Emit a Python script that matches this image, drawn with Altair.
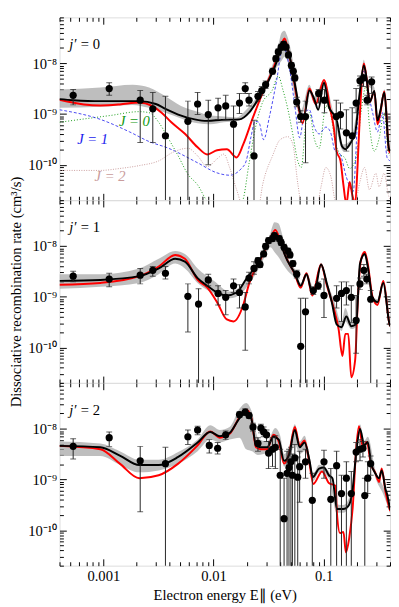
import altair as alt
import pandas as pd

FONT = "Liberation Serif"

# ---------------- panel 1 : j' = 0 ----------------
# data points: (energy eV, rate, upper error, lower error)
p1_points = [
    (5.32e-4, 2.33e-9, 3.03e-9, 1.51e-9), (1.13e-3, 3.17e-9, 4.12e-9, 2.33e-9),
    (2.16e-3, 1.87e-9, 2.90e-9, 2.74e-10), (2.81e-3, 1.26e-9, 2.66e-9, 2.74e-10),
    (3.66e-3, 3.72e-10, 2.23e-9, 1e-13), (5.85e-3, 7.16e-10, 1.79e-9, 1e-13),
    (7.17e-3, 1.57e-9, 2.66e-9, 9.73e-10), (8.96e-3, 9.73e-10, 1.87e-9, 1.0e-10),
    (1.10e-2, 1.32e-9, 2.05e-9, 7.82e-10), (1.29e-2, 1.44e-9, 2.33e-9, 7.82e-10),
    (1.52e-2, 6.28e-10, 1.44e-9, 1e-13), (1.72e-2, 1.64e-9, 2.54e-9, 1.02e-9),
    (1.94e-2, 3.17e-9, 4.12e-9, 2.54e-9), (2.10e-2, 1.87e-9, 2.54e-9, 1.44e-9),
    (2.33e-2, 1.49e-10, 7.48e-10, 1e-13), (2.53e-2, 2.23e-9, 2.78e-9, 1.79e-9),
    (2.74e-2, 2.90e-9, 3.46e-9, 2.33e-9), (2.97e-2, 3.77e-9, 4.49e-9, 3.17e-9),
    (3.43e-2, 6.95e-9, 7.93e-9, 6.10e-9), (3.68e-2, 1.23e-8, 1.40e-8, 1.08e-8),
    (3.87e-2, 1.67e-8, 1.90e-8, 1.46e-8), (4.11e-2, 2.07e-8, 2.36e-8, 1.82e-8),
    (4.32e-2, 2.36e-8, 2.69e-8, 2.07e-8), (4.55e-2, 2.07e-8, 2.36e-8, 1.82e-8),
    (4.79e-2, 1.46e-8, 1.67e-8, 1.28e-8), (5.09e-2, 9.04e-9, 1.03e-8, 7.93e-9),
    (5.30e-2, 6.95e-9, 7.93e-9, 6.10e-9), (5.47e-2, 5.12e-9, 5.84e-9, 4.49e-9),
    (5.69e-2, 1.72e-9, 2.14e-9, 1.38e-9), (6.18e-2, 8.91e-10, 1.16e-9, 6.86e-10),
    (6.84e-2, 8.91e-10, 1.79e-9, 1.09e-10), (9.00e-2, 2.54e-9, 3.03e-9, 1.64e-9),
    (0.1016, 1.87e-9, 3.03e-9, 1.06e-9), (0.130, 8.91e-10, 1.87e-9, 1e-13),
    (0.142, 9.73e-10, 1.64e-9, 5.05e-10), (0.1606, 4.24e-10, 1.21e-9, 1.85e-10),
    (0.1815, 3.72e-10, 1.32e-9, 1e-13), (0.197, 1.64e-9, 3.17e-9, 1.06e-9),
    (0.2135, 4.49e-9, 5.59e-9, 3.61e-9), (0.230, 5.12e-9, 6.10e-9, 3.46e-9),
    (0.248, 1.87e-9, 2.33e-9, 1.51e-9), (0.2723, 4.30e-9, 5.35e-9, 2.54e-9),
]
p1_black = [
    (4.0e-4, 1.96e-9), (5.32e-4, 1.87e-9), (9.39e-4, 1.79e-9), (1.41e-3, 1.79e-9),
    (2.12e-3, 1.79e-9), (2.99e-3, 1.57e-9), (3.66e-3, 1.26e-9), (4.78e-3, 9.73e-10),
    (6.75e-3, 7.82e-10), (8.78e-3, 7.3e-10), (1.19e-2, 7.65e-10), (1.72e-2, 7.82e-10),
    (2.10e-2, 1.06e-9), (2.48e-2, 1.79e-9), (2.97e-2, 3.46e-9), (3.64e-2, 9.04e-9),
    (4.15e-2, 2.07e-8), (4.41e-2, 2.69e-8), (4.65e-2, 2.17e-8), (5.09e-2, 9.44e-9),
    (5.63e-2, 2.78e-9), (6.18e-2, 1.02e-9), (6.63e-2, 9.31e-10), (7.41e-2, 2.90e-9),
    (8.21e-2, 1.96e-9), (8.91e-2, 1.21e-9), (0.1006, 4.12e-9), (0.1114, 1.38e-9),
    (0.1233, 9.73e-10), (0.132, 7.16e-10), (0.1465, 2.30e-10), (0.157, 2.02e-10),
    (0.174, 2.62e-10), (0.193, 4.24e-10), (0.212, 2.54e-9), (0.2317, 9.04e-9),
    (0.246, 4.69e-9), (0.2617, 1.72e-9), (0.288, 2.84e-9), (0.3078, 7.48e-10),
    (0.327, 1.16e-9), (0.355, 2.66e-9), (0.390, 2.11e-10), (0.401, 1.85e-10),
]
p1_red = [
    (4.0e-4, 1.91e-9), (6.65e-4, 1.54e-9), (9.39e-4, 1.47e-9), (1.41e-3, 1.54e-9),
    (2.12e-3, 1.68e-9), (2.76e-3, 1.44e-9), (3.38e-3, 1.06e-9), (4.14e-3, 6.86e-10),
    (5.50e-3, 4.06e-10), (7.17e-3, 2.20e-10), (8.78e-3, 1.59e-10), (1.076e-2, 1.93e-10),
    (1.32e-2, 2.02e-10), (1.62e-2, 1.39e-10), (1.86e-2, 2.51e-10), (2.28e-2, 8.53e-10),
    (2.80e-2, 2.66e-9), (3.43e-2, 7.26e-9), (3.87e-2, 1.46e-8), (4.24e-2, 2.69e-8),
    (4.41e-2, 3.07e-8), (4.71e-2, 1.99e-8), (5.25e-2, 6.10e-9), (5.81e-2, 1.64e-9),
    (6.43e-2, 6.56e-10), (7.41e-2, 3.17e-9), (8.46e-2, 1.57e-9), (0.1006, 4.69e-9),
    (0.115, 1.21e-9), (0.1233, 5.51e-10), (0.131, 1.85e-10), (0.142, 1.19e-10),
    (0.151, 4.0e-11), (0.1606, 1.67e-11), (0.172, 4.56e-11), (0.1815, 2.59e-11),
    (0.193, 1.67e-11), (0.203, 9.6e-11), (0.2135, 1.06e-9), (0.2317, 9.86e-9),
    (0.246, 4.69e-9), (0.2617, 1.72e-9), (0.288, 2.78e-9), (0.3078, 6.28e-10),
    (0.327, 1.06e-9), (0.355, 2.78e-9), (0.390, 2.02e-10), (0.401, 1.69e-10),
]
p1_band = [  # (energy, upper, lower)
    (4.0e-4, 3.03e-9, 1.32e-9), (9.39e-4, 3.31e-9, 1.38e-9), (1.84e-3, 3.77e-9, 1.51e-9),
    (2.60e-3, 3.31e-9, 1.32e-9), (3.66e-3, 2.23e-9, 1.06e-9), (5.07e-3, 1.44e-9, 8.17e-10),
    (7.17e-3, 1.11e-9, 6.56e-10), (9.33e-3, 9.31e-10, 6.28e-10), (1.24e-2, 8.91e-10, 6.86e-10),
    (1.62e-2, 8.53e-10, 7.16e-10), (1.98e-2, 1.21e-9, 9.31e-10), (2.43e-2, 2.05e-9, 1.51e-9),
    (2.97e-2, 4.12e-9, 2.90e-9), (3.43e-2, 9.44e-9, 6.10e-9), (3.79e-2, 1.82e-8, 8.65e-9),
    (4.15e-2, 3.99e-8, 1.12e-8), (4.41e-2, 4.36e-8, 1.34e-8), (4.65e-2, 3.50e-8, 1.17e-8),
    (5.09e-2, 1.60e-8, 4.69e-9), (5.47e-2, 6.66e-9, 2.14e-9), (6.18e-2, 1.16e-9, 8.91e-10),
    (7.41e-2, 3.77e-9, 2.54e-9), (8.21e-2, 2.23e-9, 1.64e-9), (0.1006, 4.69e-9, 3.61e-9),
    (0.1233, 1.06e-9, 8.91e-10), (0.151, 2.51e-10, 1.85e-10), (0.174, 2.99e-10, 2.30e-10),
    (0.212, 2.90e-9, 2.14e-9), (0.2317, 1.17e-8, 7.59e-9), (0.246, 5.35e-9, 4.12e-9),
    (0.288, 3.31e-9, 2.54e-9), (0.3078, 8.53e-10, 6.56e-10), (0.355, 3.03e-9, 2.33e-9),
    (0.401, 2.20e-10, 1.69e-10),
]
p1_J1 = [
    (4.0e-4, 1.21e-9), (9.39e-4, 7.82e-10), (1.73e-3, 4.43e-10), (2.60e-3, 2.86e-10),
    (3.90e-3, 2.11e-10), (7.17e-3, 1.09e-10), (1.076e-2, 6.9e-11), (1.40e-2, 6.20e-11),
    (1.79e-2, 8.42e-11), (1.98e-2, 1.19e-10), (2.19e-2, 3.56e-10), (2.38e-2, 7.16e-10),
    (2.58e-2, 6.86e-10), (2.85e-2, 3.12e-10), (3.22e-2, 8.91e-10), (3.72e-2, 4.30e-9),
    (4.28e-2, 2.17e-8), (4.94e-2, 6.95e-9), (5.47e-2, 1.44e-9), (6.05e-2, 3.41e-10),
    (6.70e-2, 1.06e-9), (7.41e-2, 1.21e-9), (8.21e-2, 5.51e-10), (9.09e-2, 4.06e-10),
    (0.1048, 5.51e-10), (0.115, 4.43e-10), (0.127, 1.85e-10), (0.1405, 1.62e-10),
    (0.1606, 5.68e-11), (0.185, 2.95e-11), (0.205, 1.06e-9), (0.2317, 6.95e-9),
    (0.251, 2.90e-9), (0.278, 1.06e-9), (0.3078, 4.43e-10), (0.3405, 1.06e-9),
    (0.377, 1.36e-10), (0.401, 1.19e-10),
]
p1_J0 = [
    (4.0e-4, 6.86e-10), (6.25e-4, 7.82e-10), (1.15e-3, 9.31e-10), (2.12e-3, 1.11e-9),
    (2.60e-3, 1.06e-9), (3.18e-3, 6.86e-10), (3.90e-3, 3.26e-10), (4.78e-3, 1.49e-10),
    (5.85e-3, 6.5e-11), (7.17e-3, 4.0e-11), (8.78e-3, 1.91e-11), (1.19e-2, 1.34e-11),
    (1.82e-2, 1.91e-11), (2.10e-2, 1.05e-10), (2.33e-2, 3.88e-10), (2.77e-2, 1.64e-9),
    (3.40e-2, 2.90e-9), (3.87e-2, 5.59e-9), (4.28e-2, 2.90e-9), (4.74e-2, 1.21e-9),
    (5.25e-2, 3.88e-10), (5.81e-2, 1.19e-10), (6.25e-2, 8.80e-11), (6.91e-2, 6.86e-10),
    (7.41e-2, 1.06e-9), (8.21e-2, 3.26e-10), (9.09e-2, 2.11e-10), (0.1048, 1.44e-9),
    (0.115, 1.06e-9), (0.127, 2.86e-10), (0.1405, 1.62e-10), (0.1555, 1.36e-10),
    (0.172, 8.42e-11), (0.197, 1.36e-10), (0.218, 1.06e-9), (0.242, 3.46e-9),
    (0.260, 6.01e-10), (0.288, 1.85e-10), (0.318, 3.26e-10), (0.353, 1.06e-9),
    (0.390, 1.62e-10), (0.401, 1.49e-10),
]
p1_J2 = [
    (4.0e-4, 7.71e-11), (9.39e-4, 7.71e-11), (1.41e-3, 8.42e-11), (2.12e-3, 9.6e-11),
    (3.18e-3, 1.19e-10), (4.31e-3, 1.77e-10), (5.85e-3, 2.11e-10), (7.17e-3, 1.49e-10),
    (8.78e-3, 9.19e-11), (1.076e-2, 1.30e-10), (1.24e-2, 1.62e-10), (1.40e-2, 8.8e-11),
    (1.62e-2, 3.22e-11), (1.90e-2, 1.34e-11), (2.53e-2, 1.34e-11), (2.80e-2, 4.18e-11),
    (3.43e-2, 1.49e-10), (4.03e-2, 3.12e-10), (4.74e-2, 3.56e-10), (5.25e-2, 2.51e-10),
    (5.81e-2, 4.37e-11), (6.43e-2, 1.34e-11), (8.55e-2, 1.34e-11), (9.46e-2, 3.67e-11),
    (0.1045, 8.8e-11), (0.1165, 5.68e-11), (0.128, 1.91e-11), (0.189, 1.34e-11),
    (0.212, 4.37e-11), (0.235, 8.8e-11), (0.260, 3.22e-11), (0.2975, 6.77e-11),
    (0.318, 3.67e-11), (0.353, 6.77e-11), (0.390, 2.37e-11), (0.401, 2.08e-11),
]

# ---------------- panel 2 : j' = 1 ----------------
p2_points = [
    (5.32e-4, 2.54e-9, 3.17e-9, 1.96e-9), (1.13e-3, 2.23e-9, 2.90e-9, 1.57e-9),
    (2.16e-3, 2.66e-9, 3.61e-9, 1.79e-9), (2.81e-3, 3.31e-9, 3.94e-9, 2.54e-9),
    (3.66e-3, 2.90e-9, 3.94e-9, 2.23e-9), (5.85e-3, 1.02e-9, 1.79e-9, 2.02e-10),
    (7.31e-3, 7.16e-10, 1.44e-9, 1e-13), (8.96e-3, 2.14e-9, 2.78e-9, 1.64e-9),
    (1.10e-2, 1.16e-9, 1.64e-9, 6.86e-10), (1.29e-2, 9.73e-10, 1.32e-9, 4.43e-10),
    (1.52e-2, 1.64e-9, 2.23e-9, 1.21e-9), (1.72e-2, 1.21e-9, 1.72e-9, 6.01e-10),
    (1.94e-2, 6.28e-10, 1.21e-9, 8.80e-11), (2.10e-2, 2.33e-9, 3.03e-9, 1.79e-9),
    (2.33e-2, 3.61e-9, 4.90e-9, 2.78e-9), (2.53e-2, 5.12e-9, 5.84e-9, 4.49e-9),
    (2.64e-2, 4.30e-9, 4.90e-9, 3.77e-9), (2.85e-2, 6.95e-9, 7.93e-9, 6.10e-9),
    (2.97e-2, 9.86e-9, 1.12e-8, 8.65e-9), (3.16e-2, 1.28e-8, 1.46e-8, 1.12e-8),
    (3.43e-2, 1.40e-8, 1.60e-8, 1.23e-8), (3.57e-2, 1.60e-8, 1.82e-8, 1.40e-8),
    (3.95e-2, 1.40e-8, 1.60e-8, 1.23e-8), (4.11e-2, 1.17e-8, 1.34e-8, 1.03e-8),
    (4.37e-2, 9.44e-9, 1.08e-8, 8.28e-9), (4.74e-2, 7.93e-9, 9.04e-9, 6.95e-9),
    (4.94e-2, 6.66e-9, 7.59e-9, 5.84e-9), (5.25e-2, 4.49e-9, 5.12e-9, 3.94e-9),
    (5.69e-2, 2.78e-9, 3.31e-9, 2.33e-9), (6.18e-2, 1.05e-10, 9.31e-10, 1e-13),
    (6.84e-2, 5.05e-10, 9.31e-10, 1e-13), (8.05e-2, 1.32e-9, 1.57e-9, 1.11e-9),
    (8.91e-2, 1.64e-9, 1.96e-9, 1.38e-9), (0.1006, 1.06e-9, 2.23e-9, 3.88e-10),
    (0.131, 9.31e-10, 1.64e-9, 6.01e-10), (0.145, 1.16e-9, 1.96e-9, 3.26e-10),
    (0.1606, 1.32e-9, 1.96e-9, 6.86e-10), (0.178, 9.73e-10, 1.64e-9, 3.12e-10),
    (0.197, 3.41e-10, 1.06e-9, 7.71e-11), (0.2135, 1.79e-9, 2.33e-9, 1.38e-9),
    (0.2317, 3.31e-9, 4.30e-9, 2.54e-9), (0.246, 2.23e-9, 2.78e-9, 1.79e-9),
    (0.267, 8.91e-10, 1.32e-9, 1e-13),
]
p2_black = [
    (4.0e-4, 2.05e-9), (9.39e-4, 2.14e-9), (2.12e-3, 2.54e-9), (3.18e-3, 3.61e-9),
    (4.49e-3, 5.59e-9), (5.50e-3, 4.90e-9), (7.17e-3, 2.33e-9), (8.78e-3, 1.64e-9),
    (1.076e-2, 1.21e-9), (1.32e-2, 1.06e-9), (1.62e-2, 1.21e-9), (1.98e-2, 2.23e-9),
    (2.33e-2, 3.61e-9), (2.80e-2, 6.95e-9), (3.16e-2, 1.28e-8), (3.64e-2, 1.60e-8),
    (4.03e-2, 1.34e-8), (4.28e-2, 8.28e-9), (4.74e-2, 4.90e-9), (5.47e-2, 2.90e-9),
    (6.18e-2, 1.64e-9), (6.98e-2, 2.78e-9), (7.74e-2, 1.32e-9), (8.21e-2, 1.21e-9),
    (9.46e-2, 4.30e-9), (0.107, 1.79e-9), (0.1184, 7.82e-10), (0.131, 2.86e-10),
    (0.145, 2.51e-10), (0.1606, 4.06e-10), (0.178, 2.62e-10), (0.197, 2.86e-10),
    (0.2135, 4.49e-9), (0.236, 6.95e-9), (0.251, 3.94e-9), (0.278, 9.31e-10),
    (0.3078, 7.82e-10), (0.3475, 1.87e-9), (0.3926, 3.12e-10), (0.401, 2.62e-10),
]
p2_red = [
    (4.0e-4, 1.72e-9), (9.39e-4, 1.87e-9), (2.12e-3, 2.54e-9), (3.18e-3, 3.94e-9),
    (4.49e-3, 6.66e-9), (5.50e-3, 5.59e-9), (7.17e-3, 2.14e-9), (8.78e-3, 1.51e-9),
    (1.076e-2, 7.82e-10), (1.32e-2, 3.56e-10), (1.52e-2, 3.26e-10), (1.86e-2, 6.86e-10),
    (2.10e-2, 1.79e-9), (2.80e-2, 6.66e-9), (3.29e-2, 1.46e-8), (3.64e-2, 2.07e-8),
    (4.03e-2, 1.28e-8), (4.46e-2, 6.66e-9), (5.47e-2, 2.78e-9), (6.18e-2, 1.51e-9),
    (6.98e-2, 2.90e-9), (7.88e-2, 1.06e-9), (9.46e-2, 4.30e-9), (0.107, 1.64e-9),
    (0.1233, 6.01e-10), (0.1365, 2.30e-10), (0.148, 6.77e-11), (0.157, 1.85e-10),
    (0.167, 1.85e-10), (0.178, 2.59e-11), (0.193, 5.68e-11), (0.205, 1.06e-9),
    (0.218, 5.35e-9), (0.236, 7.59e-9), (0.251, 4.49e-9), (0.278, 9.73e-10),
    (0.3078, 6.86e-10), (0.3475, 2.05e-9), (0.3926, 3.12e-10), (0.401, 2.62e-10),
]
p2_band = [
    (4.0e-4, 2.78e-9, 1.44e-9), (9.39e-4, 2.78e-9, 1.57e-9), (2.12e-3, 3.61e-9, 1.87e-9),
    (3.18e-3, 5.59e-9, 2.78e-9), (4.49e-3, 7.93e-9, 4.49e-9), (5.50e-3, 6.95e-9, 3.61e-9),
    (7.17e-3, 3.61e-9, 1.87e-9), (1.012e-2, 2.05e-9, 1.16e-9), (1.40e-2, 1.26e-9, 9.31e-10),
    (1.79e-2, 1.64e-9, 1.16e-9), (2.10e-2, 2.54e-9, 1.79e-9), (2.53e-2, 4.90e-9, 3.31e-9),
    (2.97e-2, 9.44e-9, 6.66e-9), (3.29e-2, 1.82e-8, 9.44e-9), (3.57e-2, 2.94e-8, 7.59e-9),
    (3.87e-2, 2.81e-8, 6.10e-9), (4.28e-2, 1.46e-8, 4.30e-9), (4.74e-2, 6.10e-9, 3.17e-9),
    (5.47e-2, 3.46e-9, 2.33e-9), (6.18e-2, 1.87e-9, 1.44e-9), (6.98e-2, 3.03e-9, 2.44e-9),
    (8.21e-2, 1.38e-9, 1.11e-9), (9.46e-2, 4.69e-9, 3.77e-9), (0.107, 1.96e-9, 1.57e-9),
    (0.1233, 8.91e-10, 6.86e-10), (0.145, 3.12e-10, 2.11e-10), (0.157, 6.01e-10, 3.26e-10),
    (0.178, 3.12e-10, 2.30e-10), (0.197, 3.26e-10, 2.51e-10), (0.2135, 5.12e-9, 4.12e-9),
    (0.236, 7.93e-9, 6.37e-9), (0.278, 1.02e-9, 8.17e-10), (0.3078, 8.91e-10, 7.16e-10),
    (0.3475, 2.14e-9, 1.72e-9), (0.401, 3.41e-10, 2.74e-10),
]

# ---------------- panel 3 : j' = 2 ----------------
p3_points = [
    (5.32e-4, 4.49e-9, 6.37e-9, 2.54e-9), (1.13e-3, 6.66e-9, 8.65e-9, 4.49e-9),
    (2.16e-3, 2.33e-9, 4.49e-9, 2.30e-10), (3.66e-3, 2.05e-9, 4.30e-9, 1e-13),
    (5.85e-3, 6.95e-9, 9.44e-9, 4.90e-9), (7.17e-3, 9.44e-9, 1.12e-8, 7.59e-9),
    (9.15e-3, 4.69e-9, 6.10e-9, 3.31e-9), (1.09e-2, 4.12e-9, 5.35e-9, 3.17e-9),
    (1.29e-2, 7.59e-9, 9.04e-9, 6.10e-9), (1.72e-2, 1.90e-8, 2.17e-8, 1.67e-8),
    (1.94e-2, 2.12e-8, 2.47e-8, 1.82e-8), (2.10e-2, 1.82e-8, 2.07e-8, 1.60e-8),
    (2.28e-2, 1.08e-8, 1.28e-8, 9.04e-9), (2.53e-2, 5.12e-9, 6.66e-9, 3.61e-9),
    (2.69e-2, 1.03e-8, 1.23e-8, 8.28e-9), (2.85e-2, 8.65e-9, 1.08e-8, 6.95e-9),
    (3.03e-2, 7.59e-9, 9.44e-9, 5.59e-9), (3.16e-2, 3.31e-9, 5.59e-9, 1.64e-9),
    (3.43e-2, 3.94e-9, 6.66e-9, 1.79e-9), (3.64e-2, 4.30e-9, 7.26e-9, 1.64e-9),
    (4.03e-2, 1.21e-9, 3.94e-9, 1e-13), (4.37e-2, 1.69e-10, 1.06e-9, 1e-13),
    (4.65e-2, 1.32e-9, 3.61e-9, 1e-13), (4.84e-2, 1.72e-9, 3.94e-9, 1e-13),
    (5.04e-2, 2.23e-9, 4.30e-9, 1e-13), (5.20e-2, 1.21e-9, 3.17e-9, 1e-13),
    (5.47e-2, 2.66e-9, 4.90e-9, 1e-13), (5.81e-2, 1.11e-9, 2.78e-9, 1e-13),
    (6.05e-2, 1.79e-9, 3.61e-9, 3.56e-10), (6.84e-2, 2.23e-9, 3.94e-9, 1.06e-9),
    (7.88e-2, 3.88e-10, 1.32e-9, 1e-13), (0.1006, 2.23e-9, 3.77e-9, 1.06e-9),
    (0.116, 4.06e-10, 1.64e-9, 1e-13), (0.131, 1.87e-9, 3.61e-9, 1e-13),
    (0.145, 5.27e-10, 1.21e-9, 1e-13), (0.1606, 1.06e-9, 2.23e-9, 1e-13),
    (0.178, 5.27e-10, 1.44e-9, 1e-13), (0.197, 3.46e-9, 5.35e-9, 2.23e-9),
    (0.2135, 3.94e-9, 6.10e-9, 2.33e-9), (0.227, 4.12e-9, 5.59e-9, 2.78e-9),
    (0.236, 4.83e-10, 1.06e-9, 1e-13), (0.251, 1.06e-9, 2.23e-9, 5.27e-10),
    (0.267, 2.05e-9, 2.90e-9, 1.21e-9),
]
p3_black = [
    (4.0e-4, 4.59e-9), (9.39e-4, 4.30e-9), (1.41e-3, 2.96e-9), (2.12e-3, 1.92e-9),
    (3.18e-3, 1.92e-9), (4.78e-3, 2.78e-9), (7.17e-3, 5.35e-9), (9.33e-3, 8.65e-9),
    (1.143e-2, 7.1e-9), (1.40e-2, 8.28e-9), (1.72e-2, 1.60e-8), (1.98e-2, 2.12e-8),
    (2.19e-2, 1.67e-8), (2.43e-2, 4.69e-9), (2.69e-2, 4.30e-9), (3.06e-2, 4.30e-9),
    (3.50e-2, 6.95e-9), (3.91e-2, 6.10e-9), (4.37e-2, 2.33e-9), (4.84e-2, 3.03e-9),
    (5.47e-2, 9.44e-9), (6.05e-2, 4.30e-9), (6.70e-2, 5.35e-9), (7.41e-2, 2.44e-9),
    (7.96e-2, 1.11e-9), (9.09e-2, 1.64e-9), (0.1006, 1.72e-9), (0.1114, 1.21e-9),
    (0.120, 1.06e-9), (0.132, 2.62e-10), (0.151, 2.62e-10), (0.167, 2.99e-10),
    (0.1815, 5.51e-10), (0.198, 3.61e-9), (0.2135, 9.86e-9), (0.234, 4.69e-9),
    (0.251, 5.47e-9), (0.269, 2.14e-9), (0.2975, 1.26e-9), (0.318, 1.06e-9),
    (0.336, 1.51e-9), (0.365, 6.28e-10), (0.377, 5.05e-10), (0.401, 2.51e-10),
]
p3_red = [
    (4.0e-4, 4.59e-9), (9.39e-4, 3.94e-9), (1.41e-3, 2.05e-9), (2.12e-3, 1.06e-9),
    (3.18e-3, 1.21e-9), (4.78e-3, 2.05e-9), (7.17e-3, 4.69e-9), (9.33e-3, 8.85e-9),
    (1.143e-2, 6.66e-9), (1.40e-2, 7.93e-9), (1.72e-2, 1.67e-8), (1.98e-2, 2.36e-8),
    (2.19e-2, 1.74e-8), (2.43e-2, 4.30e-9), (2.69e-2, 3.94e-9), (3.06e-2, 3.94e-9),
    (3.50e-2, 7.59e-9), (3.91e-2, 5.59e-9), (4.37e-2, 2.05e-9), (4.84e-2, 3.17e-9),
    (5.47e-2, 1.08e-8), (6.05e-2, 4.69e-9), (6.70e-2, 5.84e-9), (7.41e-2, 2.14e-9),
    (8.05e-2, 8.17e-10), (9.66e-2, 1.44e-9), (0.1114, 8.53e-10), (0.128, 7.48e-10),
    (0.132, 2.11e-10), (0.1405, 8.8e-11), (0.151, 9.19e-11), (0.159, 3.67e-11),
    (0.1706, 7.1e-11), (0.1835, 2.86e-10), (0.197, 3.94e-9), (0.209, 1.12e-8),
    (0.227, 4.30e-9), (0.246, 5.47e-9), (0.269, 1.96e-9), (0.293, 1.38e-9),
    (0.318, 8.91e-10), (0.336, 1.64e-9), (0.365, 5.51e-10), (0.401, 2.40e-10),
]
p3_band = [
    (4.0e-4, 5.59e-9, 2.90e-9), (9.39e-4, 5.12e-9, 2.90e-9), (1.41e-3, 3.61e-9, 1.96e-9),
    (2.12e-3, 2.44e-9, 1.38e-9), (3.18e-3, 2.44e-9, 1.51e-9), (4.78e-3, 3.46e-9, 2.05e-9),
    (7.17e-3, 6.10e-9, 3.61e-9), (9.33e-3, 1.17e-8, 6.10e-9), (1.143e-2, 9.44e-9, 5.35e-9),
    (1.40e-2, 1.08e-8, 6.10e-9), (1.72e-2, 2.47e-8, 6.66e-9), (1.98e-2, 3.21e-8, 3.94e-9),
    (2.24e-2, 2.07e-8, 3.61e-9), (2.53e-2, 6.66e-9, 3.03e-9), (3.06e-2, 5.59e-9, 3.31e-9),
    (3.64e-2, 1.03e-8, 3.94e-9), (4.03e-2, 7.26e-9, 4.30e-9), (4.37e-2, 3.17e-9, 1.79e-9),
    (4.84e-2, 4.30e-9, 2.33e-9), (5.47e-2, 1.23e-8, 4.90e-9), (6.05e-2, 5.59e-9, 3.17e-9),
    (6.70e-2, 7.26e-9, 3.61e-9), (7.41e-2, 3.03e-9, 1.96e-9), (8.05e-2, 1.32e-9, 9.31e-10),
    (9.09e-2, 1.96e-9, 1.38e-9), (0.1114, 1.44e-9, 1.06e-9), (0.131, 3.26e-10, 2.20e-10),
    (0.151, 3.12e-10, 2.20e-10), (0.1815, 6.86e-10, 4.63e-10), (0.198, 4.49e-9, 3.03e-9),
    (0.2135, 1.23e-8, 8.28e-9), (0.234, 5.84e-9, 3.94e-9), (0.251, 6.95e-9, 4.69e-9),
    (0.2956, 1.51e-9, 1.06e-9), (0.345, 7.48e-10, 5.27e-10), (0.401, 2.99e-10, 2.11e-10),
]

panel_labels = ["0", "1", "2"]
J_labels = [("J = 0", 1.91e-3, 7.16e-10, "#119911"),
            ("J = 1", 7.98e-4, 3.26e-10, "#1a1aee"),
            ("J = 2", 1.15e-3, 5.94e-11, "#c99c9c")]

X_DOMAIN = [4e-4, 0.4]
Y_DOMAIN = [2e-11, 8e-8]

# ---------------- helpers ----------------
xs = alt.Scale(type="log", domain=X_DOMAIN, nice=False)
ys = alt.Scale(type="log", domain=Y_DOMAIN, nice=False)

y_ticks = [m * 10.0 ** e for e in (-11, -10, -9, -8) for m in range(1, 10)
           if Y_DOMAIN[0] * 0.999 <= m * 10.0 ** e <= Y_DOMAIN[1] * 1.001]
x_ticks = [m * 10.0 ** e for e in (-4, -3, -2, -1) for m in range(1, 10)
           if X_DOMAIN[0] * 0.999 <= m * 10.0 ** e <= X_DOMAIN[1] * 1.001]

MAJ = "abs(log(datum.value)/LN10 - round(log(datum.value)/LN10)) < 0.01"
TICK = alt.ExprRef(f"({MAJ}) ? -7 : -4")
LABSIZE = alt.ExprRef(f"({MAJ}) ? 15 : 0")
YLAB = ("datum.value > 9.5e-9 && datum.value < 1.05e-8 ? '10⁻⁸' : "
        "datum.value > 9.5e-10 && datum.value < 1.05e-9 ? '10⁻⁹' : "
        "datum.value > 9.5e-11 && datum.value < 1.05e-10 ? '10⁻¹⁰' : ''")
XLAB = ("datum.value > 9.5e-4 && datum.value < 1.05e-3 ? '0.001' : "
        "datum.value > 9.5e-3 && datum.value < 1.05e-2 ? '0.01' : "
        "datum.value > 0.095 && datum.value < 0.105 ? '0.1' : ''")


def axis(orient, values, expr, labels, title=None):
    kw = dict(orient=orient, values=values, labelExpr=expr, labels=labels,
              tickSize=TICK, tickColor="black", tickWidth=1, domain=False,
              grid=False, labelPadding=10, labelOverlap=False, labelFont=FONT,
              labelFontSize=LABSIZE, labelColor="black", titleFont=FONT,
              titleFontSize=15, titleFontWeight="normal", titleColor="black",
              titlePadding=5, title=title)
    if not labels:
        kw.update(minExtent=0, maxExtent=0)
    return alt.Axis(**kw)


def curve_df(rows):
    return pd.DataFrame(rows, columns=["E", "r"])


def panel(idx, points, black, red, band, extra=None, bottom=False, ytitle=None):
    pts = pd.DataFrame(points, columns=["E", "r", "hi", "lo"])
    bnd = pd.DataFrame(band, columns=["E", "hi", "lo"])
    X = lambda ax=None: alt.X("E:Q", scale=xs, axis=ax)
    layers = []
    layers.append(
        alt.Chart(bnd).mark_area(color="#a8a8a8", opacity=0.75, clip=True,
                                 interpolate="monotone").encode(
            x=X(axis("bottom", x_ticks, XLAB, bottom,
                     "Electron energy E∥ (eV)" if bottom else None)),
            y=alt.Y("hi:Q", scale=ys,
                    axis=axis("left", y_ticks, YLAB, True, ytitle)),
            y2="lo:Q"))
    if extra:
        for rows, color, dash, width in extra:
            layers.append(alt.Chart(curve_df(rows)).mark_line(
                color=color, strokeDash=dash, strokeWidth=width, clip=True,
                interpolate="monotone").encode(
                x=X(), y=alt.Y("r:Q", scale=ys, axis=None)))
        for txt, ex, ry, col in J_labels:
            layers.append(alt.Chart(pd.DataFrame({"E": [ex], "r": [ry], "t": [txt]}))
                          .mark_text(font=FONT, fontSize=15, fontStyle="italic",
                                     color=col, align="center", baseline="middle")
                          .encode(x=X(), y=alt.Y("r:Q", scale=ys, axis=None),
                                  text="t:N"))
    layers.append(alt.Chart(curve_df(red)).mark_line(
        color="#ff0000", strokeWidth=2, clip=True, interpolate="monotone").encode(
        x=X(), y=alt.Y("r:Q", scale=ys, axis=None)))
    layers.append(alt.Chart(curve_df(black)).mark_line(
        color="black", strokeWidth=2, clip=True, interpolate="monotone").encode(
        x=X(axis("top", x_ticks, XLAB, False)),
        y=alt.Y("r:Q", scale=ys, axis=axis("right", y_ticks, YLAB, False))))
    layers.append(alt.Chart(pts).mark_rule(color="#222222", strokeWidth=1, clip=True)
                  .encode(x=X(), y=alt.Y("hi:Q", scale=ys, axis=None), y2="lo:Q"))
    for col in ("hi", "lo"):
        layers.append(alt.Chart(pts).mark_tick(color="#222222", orient="horizontal",
                                               size=6, thickness=1, clip=True)
                      .encode(x=X(), y=alt.Y(f"{col}:Q", scale=ys, axis=None)))
    layers.append(alt.Chart(pts).mark_circle(color="black", size=55, opacity=1,
                                             clip=True)
                  .encode(x=X(), y=alt.Y("r:Q", scale=ys, axis=None)))
    lab = pd.DataFrame({"E": [4.9e-4, 6.25e-4], "r": [2.36e-8, 2.36e-8],
                        "t": ["j′", "= " + panel_labels[idx]],
                        "s": ["italic", "normal"]})
    for i in range(2):
        layers.append(alt.Chart(lab.iloc[[i]]).mark_text(
            font=FONT, fontSize=15, fontStyle=lab["s"][i], color="black",
            align="left", baseline="middle").encode(
            x=X(), y=alt.Y("r:Q", scale=ys, axis=None), text="t:N"))
    return (alt.layer(*layers)
            .resolve_axis(x="independent", y="independent")
            .properties(width=340, height=188))


c1 = panel(0, p1_points, p1_black, p1_red, p1_band,
           extra=[(p1_J0, "#119911", [1, 2], 1),
                  (p1_J1, "#1a1aee", [3, 2], 0.8),
                  (p1_J2, "#c99c9c", [1, 1.5], 1)])
c2 = panel(1, p2_points, p2_black, p2_red, p2_band,
           ytitle="Dissociative recombination rate (cm³/s)")
c3 = panel(2, p3_points, p3_black, p3_red, p3_band, bottom=True)

chart = (alt.vconcat(c1, c2, c3, spacing=0, bounds="flush")
         .properties(padding={"left": 0, "top": 0, "right": 0, "bottom": 0})
         .configure_view(stroke="black", strokeWidth=1)
         .configure(font=FONT, background="white"))

chart.save("out.html", embed_options={"renderer": "svg", "actions": False})
